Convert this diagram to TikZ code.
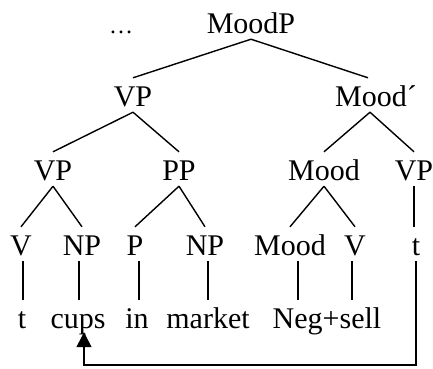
\documentclass[tikz,border=0pt]{standalone}
\usepackage{fontspec}
\setmainfont{Liberation Serif}
\usetikzlibrary{arrows.meta}

\begin{document}
\begin{tikzpicture}[x=1pt,y=1pt,yscale=-1,xscale=1,
  cat/.style={anchor=base,inner sep=0pt,text height=28pt,text depth=6pt,font=\fontsize{30}{36}\selectfont},
  branch/.style={line width=1.4pt}]
\useasboundingbox (0,0) rectangle (433,368);

% Text Node
\node [cat] (dots) at (121,33) {\fontsize{24}{28}\selectfont …};
\node [cat] (moodp) at (251,33) {MoodP};
% Text Node
\node [cat] (vpA) at (133,106) {VP};
\node [cat] (moodbar) at (376,106) {Mood´};
% Text Node
\node [cat] (vpB) at (53,180) {VP};
\node [cat] (pp) at (179,180) {PP};
\node [cat] (moodC) at (324,180) {Mood};
\node [cat] (vpC) at (414,180) {VP};
% Text Node
\node [cat] (vD) at (21,255) {V};
\node [cat] (npD) at (82,255) {NP};
\node [cat] (pD) at (135,255) {P};
\node [cat] (npE) at (205,255) {NP};
\node [cat] (moodD) at (290,255) {Mood};
\node [cat] (vE) at (355,255) {V};
\node [cat] (tD) at (416,255) {t};
% Text Node
\node [cat] (tE) at (22,328) {t};
\node [cat] (cups) at (78,328) {cups};
\node [cat] (in) at (137,328) {in};
\node [cat] (market) at (208,328) {market};
\node [cat] (negsell) at (327,328) {Neg+sell};

%Straight Lines
\draw [branch] (moodp.south) -- (vpA.north);
\draw [branch] (moodp.south) -- ([xshift=-8pt]moodbar.north);
\draw [branch] (vpA.south) -- (vpB.north);
\draw [branch] (vpA.south) -- (pp.north);
\draw [branch] ([xshift=-6pt]moodbar.south) -- (moodC.north);
\draw [branch] ([xshift=-6pt]moodbar.south) -- (vpC.north);
\draw [branch] (vpB.south) -- (vD.north);
\draw [branch] (vpB.south) -- (npD.north);
\draw [branch] (pp.south) -- (pD.north);
\draw [branch] (pp.south) -- (npE.north);
\draw [branch] (moodC.south) -- (moodD.north);
\draw [branch] (moodC.south) -- (vE.north);
\draw [branch] (vpC.south) -- (vpC.south |- tD.north);
%Straight Lines
\draw [branch] ([xshift=2pt]vD.south) -- ([xshift=2pt]vD.south |- tE.north);
\draw [branch] ([xshift=-3pt]npD.south) -- ([xshift=-3pt]npD.south |- cups.north);
\draw [branch] ([xshift=4pt]pD.south) -- ([xshift=4pt]pD.south |- in.north);
\draw [branch] ([xshift=3pt]npE.south) -- ([xshift=3pt]npE.south |- market.north);
\draw [branch] ([xshift=8pt]moodD.south) -- ([xshift=8pt]moodD.south |- negsell.north);
\draw [branch] ([xshift=-3pt]vE.south) -- ([xshift=-3pt]vE.south |- negsell.north);
%Movement arrow
\coordinate (turn) at (416,365);
\draw [branch,-{Triangle[width=15pt,length=15pt]}] (tD.south) -- (turn) -| ([xshift=6pt,yshift=-2pt]cups.south);

\end{tikzpicture}
\end{document}
